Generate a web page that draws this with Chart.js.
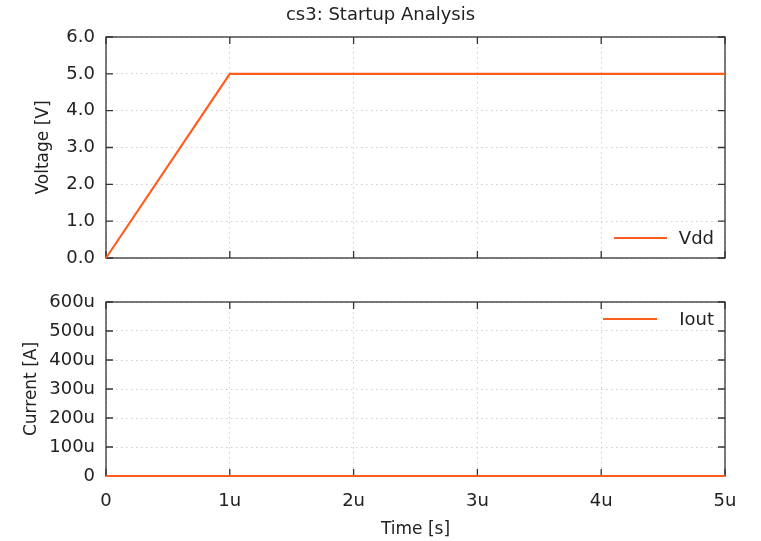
<!DOCTYPE html>
<html><head><meta charset="utf-8">
<script src="https://cdn.jsdelivr.net/npm/chart.js@4"></script>
<style>
html,body{margin:0;padding:0;background:#fff;}
#wrap{position:relative;width:761px;height:541px;overflow:hidden;}
canvas{position:absolute;left:0;}
#c1{top:0}
#c2{top:270px}
</style></head><body>
<div id="wrap">
<canvas id="c1" width="761" height="270"></canvas>
<canvas id="c2" width="761" height="271"></canvas>
</div>
<script>
const chartTitle = 'cs3: Startup Analysis';
const timeSec = [0, 1e-6, 5e-6];
const vddVolts = [0, 5, 5];
const ioutAmps = [0, 0, 0];
const seriesNames = ['Vdd', 'Iout'];
const xAxisTitle = 'Time [s]';
const vAxisTitle = 'Voltage [V]';
const iAxisTitle = 'Current [A]';
const xRange = [0, 5e-6, 1e-6];
const vRange = [0, 6, 1];
const iRange = [0, 600e-6, 100e-6];

const FONT = 'DejaVu Sans';
const TXT = '#222';
const LINE = '#ff5d20';
const FRAME = '#333';
const GRID = '#cfcfcf';

function micro(v) { const n = Math.round(v * 1e6); return n === 0 ? '0' : n + 'u'; }

const framePlugin = {
  id: 'frame',
  beforeDatasetsDraw(chart) {
    const {ctx, chartArea: a, scales: {x, y}} = chart;
    const L = 7;
    ctx.save();
    ctx.strokeStyle = FRAME;
    ctx.lineWidth = 1.3;
    ctx.beginPath();
    x.ticks.forEach(t => {
      const px = x.getPixelForValue(t.value);
      ctx.moveTo(px, a.top); ctx.lineTo(px, a.top + L);
      ctx.moveTo(px, a.bottom); ctx.lineTo(px, a.bottom - L);
    });
    y.ticks.forEach(t => {
      const py = y.getPixelForValue(t.value);
      ctx.moveTo(a.left, py); ctx.lineTo(a.left + L, py);
      ctx.moveTo(a.right, py); ctx.lineTo(a.right - L, py);
    });
    ctx.stroke();
    ctx.strokeRect(a.left, a.top, a.right - a.left, a.bottom - a.top);
    ctx.restore();
  }
};

function makeLegend(label, atBottom, lineStartOff, lineEndOff, dy) {
  return {
    id: 'leg',
    afterDatasetsDraw(chart) {
      const {ctx, chartArea: a} = chart;
      const y = atBottom ? a.bottom - dy : a.top + dy;
      ctx.save();
      ctx.strokeStyle = LINE;
      ctx.lineWidth = 2;
      ctx.beginPath();
      ctx.moveTo(a.right - lineStartOff, y);
      ctx.lineTo(a.right - lineEndOff, y);
      ctx.stroke();
      ctx.fillStyle = TXT;
      ctx.font = '18px "' + FONT + '"';
      ctx.textAlign = 'right';
      ctx.textBaseline = 'middle';
      ctx.fillText(label, a.right - 11, y + 1);
      ctx.restore();
    }
  };
}

function xScale(showLabels, h) {
  return {
    type: 'linear', min: xRange[0], max: xRange[1],
    ticks: {
      display: showLabels, stepSize: xRange[2], callback: micro,
      color: TXT, font: {family: FONT, size: 18}, padding: 15, maxRotation: 0
    },
    grid: {color: GRID, lineWidth: 1, drawTicks: false},
    border: {display: false, dash: [1.5, 3.5]},
    title: showLabels ? {display: true, text: xAxisTitle, color: TXT,
      font: {family: FONT, size: 17}, padding: {top: 0, bottom: 1.5}} : {display: false},
    afterFit(s) { s.height = h; s.paddingLeft = 0; s.paddingRight = 0; }
  };
}

function yScale(rng, fmt, title, titlePad) {
  return {
    type: 'linear', min: rng[0], max: rng[1],
    ticks: {stepSize: rng[2], callback: fmt, color: TXT, font: {family: FONT, size: 18}, padding: 11},
    grid: {color: GRID, lineWidth: 1, drawTicks: false},
    border: {display: false, dash: [1.5, 3.5]},
    title: {display: true, text: title, color: TXT, font: {family: FONT, size: 17},
      padding: {top: titlePad, bottom: 0}},
    afterFit(s) { s.width = 106; s.paddingTop = 0; s.paddingBottom = 0; }
  };
}

function spacer() {
  return {
    type: 'linear', position: 'right', display: true,
    ticks: {display: false}, grid: {display: false}, border: {display: false},
    afterFit(s) { s.width = 36; s.paddingTop = 0; s.paddingBottom = 0; }
  };
}

function pts(xs, ys) { return xs.map((x, i) => ({x, y: ys[i]})); }

new Chart(document.getElementById('c1'), {
  type: 'line',
  data: {datasets: [{label: seriesNames[0], data: pts(timeSec, vddVolts),
    borderColor: LINE, borderWidth: 2.2, pointRadius: 0, fill: false, tension: 0, clip: false}]},
  options: {
    responsive: false, animation: false,
    layout: {padding: 0},
    plugins: {
      legend: {display: false}, tooltip: {enabled: false},
      title: {display: true, text: chartTitle, color: TXT, font: {family: FONT, size: 18, weight: 'normal'},
        padding: {top: 5, bottom: 10.4}}
    },
    scales: {x: xScale(false, 12), y: yScale(vRange, v => v.toFixed(1), vAxisTitle, 33), pad: spacer()}
  },
  plugins: [framePlugin, makeLegend(seriesNames[0], true, 111, 58, 20)]
});

new Chart(document.getElementById('c2'), {
  type: 'line',
  data: {datasets: [{label: seriesNames[1], data: pts(timeSec, ioutAmps),
    borderColor: LINE, borderWidth: 2.2, pointRadius: 0, fill: false, tension: 0, clip: false}]},
  options: {
    responsive: false, animation: false,
    layout: {padding: {left: 0, right: 0, top: 32, bottom: 0}},
    plugins: {legend: {display: false}, tooltip: {enabled: false}, title: {display: false}},
    scales: {x: xScale(true, 65), y: yScale(iRange, micro, iAxisTitle, 21), pad: spacer()}
  },
  plugins: [framePlugin, makeLegend(seriesNames[1], false, 122, 68, 17)]
});
</script>
</body></html>
